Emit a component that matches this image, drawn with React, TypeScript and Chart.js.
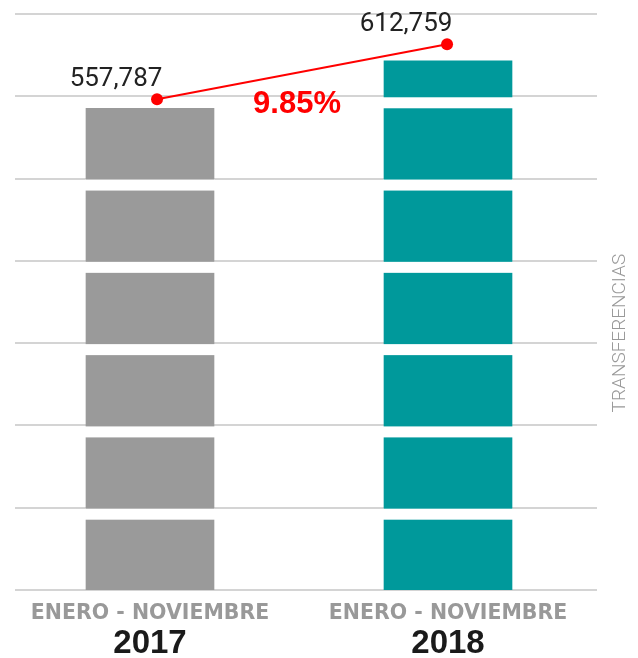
import React, { useEffect, useRef } from "react";
import { Chart, registerables } from "chart.js";

Chart.register(...registerables);

const periodLabels = ["ENERO - NOVIEMBRE", "ENERO - NOVIEMBRE"];
const yearLabels = ["2017", "2018"];
const transfers = [557787, 612759];
const barColors = ["#9a9a9a", "#00999b"];
const changeLabel = "9.85%";
const axisTitle = "TRANSFERENCIAS";

export default function App() {
  const ref = useRef<HTMLCanvasElement>(null);

  useEffect(() => {
    if (!ref.current) return;
    const fmt = (v: number) => v.toLocaleString("en-US");

    const overlay = {
      id: "overlay",
      afterDatasetDraw(chart: any, args: any) {
        if (args.index !== 0) return;
        const ctx = chart.ctx;
        const grid = chart.scales.yGrid;
        const meta = chart.getDatasetMeta(0);
        ctx.save();
        ctx.fillStyle = "#ffffff";
        meta.data.forEach((bar: any) => {
          const { x, y, base, width } = bar.getProps(["x", "y", "base", "width"], true);
          grid.ticks.forEach((t: any) => {
            if (t.value === 0) return;
            const py = grid.getPixelForValue(t.value);
            const top = Math.max(py + 1, y);
            const bottom = Math.min(py + 12, base);
            if (bottom > top) ctx.fillRect(x - width / 2 - 1, top, width + 2, bottom - top);
          });
        });
        ctx.restore();
      },
      afterDraw(chart: any) {
        const ctx = chart.ctx;
        const pts = chart.getDatasetMeta(1).data;
        ctx.save();
        ctx.font = "26px Roboto";
        ctx.fillStyle = "#222222";
        ctx.textAlign = "center";
        ctx.textBaseline = "alphabetic";
        pts.forEach((p: any, i: number) => ctx.fillText(fmt(transfers[i]), p.x - 41, p.y - 13));
        ctx.font = "bold 31px 'Liberation Sans'";
        ctx.fillStyle = "#ff0000";
        ctx.fillText(changeLabel, (pts[0].x + pts[1].x) / 2 - 5, pts[0].y + 14);
        const ca = chart.chartArea;
        ctx.translate(ca.right + 23, ca.top + (ca.bottom - ca.top) * 0.554);
        ctx.rotate(-Math.PI / 2);
        ctx.font = "300 19px Roboto";
        ctx.fillStyle = "#999999";
        ctx.textBaseline = "middle";
        ctx.fillText(axisTitle, 0, 0);
        ctx.restore();
      },
    };

    const points = transfers.map((v, i) => ({ x: i, y: v }));

    const chart = new Chart(ref.current, {
      type: "bar",
      data: {
        datasets: [
          {
            type: "bar",
            data: points,
            backgroundColor: barColors,
            xAxisID: "x",
            yAxisID: "y",
            barThickness: 128,
            grouped: false,
            order: 1,
          } as any,
          {
            type: "line",
            data: points,
            xAxisID: "xLine",
            yAxisID: "yLine",
            borderColor: "#ff0000",
            borderWidth: 2,
            pointRadius: 6,
            pointBackgroundColor: "#ff0000",
            pointBorderWidth: 0,
            order: 0,
          } as any,
        ],
      },
      options: {
        animation: false,
        responsive: true,
        maintainAspectRatio: false,
        layout: { padding: { left: 15, right: 41, top: 14, bottom: 0 } },
        plugins: { legend: { display: false }, tooltip: { enabled: false } },
        scales: {
          x: {
            type: "linear",
            position: "bottom",
            offset: false,
            min: -0.453,
            max: 1.5,
            weight: 1,
            grid: {
              display: true,
              offset: false,
              drawOnChartArea: false,
              drawTicks: true,
              tickLength: 8,
              color: "rgba(0,0,0,0)",
            },
            border: { display: false },
            afterBuildTicks: (s: any) => {
              s.ticks = periodLabels.map((_, i) => ({ value: i }));
            },
            ticks: {
              autoSkip: false,
              maxRotation: 0,
              padding: 0,
              color: "#999999",
              font: { family: "'DejaVu Sans'", weight: "bold", size: 20.5, lineHeight: 1.56 },
              callback: (v: any) => periodLabels[v] ?? "",
            },
          },
          x2: {
            type: "linear",
            position: "bottom",
            offset: false,
            min: -0.453,
            max: 1.5,
            weight: 2,
            grid: { display: false, offset: false, drawTicks: false },
            border: { display: false },
            afterBuildTicks: (s: any) => {
              s.ticks = yearLabels.map((_, i) => ({ value: i }));
            },
            ticks: {
              autoSkip: false,
              maxRotation: 0,
              padding: 0,
              color: "#1a1a1a",
              font: { family: "'Liberation Sans'", weight: "bold", size: 33, lineHeight: 0.85 },
              callback: (v: any) => yearLabels[v] ?? "",
            },
          },
          xLine: { type: "linear", display: false, offset: false, min: -0.4897, max: 1.517 },
          y: { type: "linear", display: false, min: 0, max: 667000 },
          yLine: { type: "linear", display: false, min: 67000, max: 643000 },
          yGrid: {
            type: "linear",
            position: "left",
            min: 0,
            max: 7,
            ticks: { display: false, stepSize: 1 },
            grid: { color: "#d4d4d4", lineWidth: 2, drawTicks: false },
            border: { display: false },
          },
        } as any,
      },
      plugins: [overlay],
    });

    return () => chart.destroy();
  }, []);

  return (
    <div style={{ position: "fixed", left: 0, top: 0, width: 638, height: 658 }}>
      <canvas ref={ref} />
    </div>
  );
}
